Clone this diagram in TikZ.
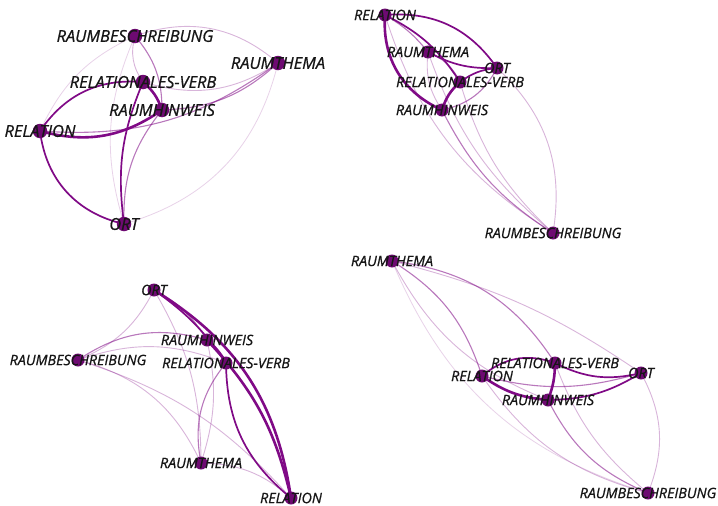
\documentclass[tikz,border=0pt]{standalone}
\usepackage{fontspec}
\setmainfont{Open Sans}
\newfontfamily\lbfont[FakeBold=0.8]{Open Sans}
\begin{document}
\begin{tikzpicture}[x=1pt,y=-1pt,
  nd/.style={circle,fill=nodecol,inner sep=0pt,minimum size=13pt},
  ndbig/.style={nd,minimum size=14.5pt},
  lb/.style={font=\lbfont\fontsize{14.3}{14.3}\selectfont\itshape,text=txtcol,inner sep=0pt},
  lbbig/.style={font=\lbfont\fontsize{16.4}{16.4}\selectfont\itshape,text=txtcol,inner sep=0pt},
  ea/.style={draw=edgecol,line width=2.6pt},
  eb/.style={draw=edgecol,line width=1.7pt},
  ec/.style={draw=edgecol,line width=1.1pt,draw opacity=.55},
  ed/.style={draw=edgecol,line width=.9pt,draw opacity=.3},
  ee/.style={draw=edgecol,line width=.8pt,draw opacity=.18},
  bl/.style={bend left=#1},
  br/.style={bend right=#1}]
\definecolor{nodecol}{HTML}{6E0A72}
\definecolor{edgecol}{HTML}{800A86}
\definecolor{txtcol}{HTML}{161616}
\useasboundingbox (0,0) rectangle (718,506);
\fill[white] (0,0) rectangle (718,506);

% ---------- panel a ----------
\coordinate (aRB) at (135,36);
\coordinate (aRT) at (278,63);
\coordinate (aRV) at (143,82);
\coordinate (aRH) at (162,110);
\coordinate (aRL) at (40,131);
\coordinate (aO)  at (124,224);
\draw[ee] (aRB) to[br=20] (aRL);
\draw[ee] (aRB) to[br=20] (aO);
\draw[ee] (aRT) to[bl=30] (aO);
\draw[ed] (aRB) to[bl=30] (aRT);
\draw[ed] (aRB) to[br=25] (aRV);
\draw[ec] (aRB) to[bl=20] (aRH);
\draw[ed] (aRT) to[bl=25] (aRV);
\draw[ec] (aRT) to[bl=20] (aRH);
\draw[ec] (aRT) to[bl=20] (aRL);
\draw[ec] (aRH) to[br=20] (aO);
\draw[eb] (aRV) to[br=15] (aO);
\draw[eb] (aRL) to[br=35] (aO);
\draw[eb] (aRL) to[bl=30] (aRV);
\draw[ea] (aRL) to[br=25] (aRH);
\draw[ea] (aRV) to[bl=15] (aRH);

% ---------- panel b ----------
\coordinate (bRL) at (385,15);
\coordinate (bRT) at (428,52);
\coordinate (bO)  at (497,68);
\coordinate (bRV) at (460,82);
\coordinate (bRH) at (442,110);
\coordinate (bRB) at (553,233);
\draw[ed] (bRL) to[br=20] (bRB);
\draw[ed] (bRT) to[br=15] (bRB);
\draw[ed] (bRV) to[br=15] (bRB);
\draw[ed] (bO) to[bl=28] (bRB);
\draw[ec] (bRH) to[br=15] (bRB);
\draw[ed] (bRT) to[br=20] (bRH);
\draw[ec] (bRL) to[bl=10] (bRT);
\draw[ec] (bRT) to[bl=20] (bRV);
\draw[ec] (bRH) to[br=25] (bO);
\draw[eb] (bRV) to[bl=15] (bO);
\draw[eb] (bRT) to[br=15] (bO);
\draw[eb] (bRL) to[bl=30] (bO);
\draw[eb] (bRL) to[bl=15] (bRV);
\draw[ea] (bRL) to[br=35] (bRH);
\draw[ea] (bRV) to[br=15] (bRH);

% ---------- panel c ----------
\coordinate (cO)  at (154,290);
\coordinate (cRH) at (207,340);
\coordinate (cRB) at (78,360);
\coordinate (cRV) at (226,363);
\coordinate (cRT) at (201,463);
\coordinate (cRL) at (291,498);
\draw[ed] (cRB) to[bl=15] (cRL);
\draw[ed] (cRB) to[br=20] (cO);
\draw[ed] (cRB) to[bl=25] (cRT);
\draw[ed] (cRB) to[bl=20] (cRV);
\draw[ec] (cRB) to[bl=25] (cRH);
\draw[ed] (cRT) to[br=15] (cRH);
\draw[ed] (cRT) to[br=15] (cO);
\draw[ed] (cRT) to[bl=20] (cRL);
\draw[ec] (cRT) to[bl=25] (cRV);
\draw[ec] (cO) to[bl=15] (cRH);
\draw[eb] (cO) to[bl=10] (cRV);
\draw[ea] (cO) to[bl=25] (cRL);
\draw[ea] (cRH) to[bl=15] (cRL);
\draw[eb] (cRV) to[br=25] (cRL);
\draw[ea] (cRH) to[bl=10] (cRV);

% ---------- panel d ----------
\coordinate (dRT) at (392,261);
\coordinate (dRV) at (555,363);
\coordinate (dRL) at (482,376);
\coordinate (dO)  at (641,373);
\coordinate (dRH) at (548,400);
\coordinate (dRB) at (648,493);
\draw[ee] (dRT) to[br=25] (dRB);
\draw[ed] (dRT) to[br=20] (dRH);
\draw[ed] (dRT) to[bl=10] (dO);
\draw[ed] (dRV) to[br=15] (dRB);
\draw[ed] (dRL) to[br=20] (dRB);
\draw[ed] (dO) to[bl=25] (dRB);
\draw[ec] (dRH) to[br=20] (dRB);
\draw[ec] (dRT) to[bl=25] (dRV);
\draw[ec] (dRT) to[bl=20] (dRL);
\draw[ec] (dRL) to[br=15] (dO);
\draw[eb] (dRV) to[br=20] (dO);
\draw[eb] (dRH) to[br=15] (dO);
\draw[eb] (dRL) to[bl=30] (dRV);
\draw[ea] (dRL) to[br=15] (dRH);
\draw[ea] (dRV) to[bl=10] (dRH);

% ---------- node circles ----------
\foreach \p in {aRB,aRT,aRV,aRH,aRL,aO}{\node[ndbig] (\p n) at (\p) {};}
\foreach \p in {bRB,bRT,bRV,bRH,bRL,bO,cRB,cRT,cRV,cRH,cRL,cO,dRB,dRT,dRV,dRH,dRL,dO}{\node[nd] (\p n) at (\p) {};}

% ---------- labels ----------
\node[lbbig] (aRBl) at (aRB) {RAUMBESCHREIBUNG};
\node[lbbig] (aRTl) at (aRT) {RAUMTHEMA};
\node[lbbig] (aRVl) at (aRV) {RELATIONALES-VERB};
\node[lbbig] (aRHl) at (aRH) {RAUMHINWEIS};
\node[lbbig] (aRLl) at (aRL) {RELATION};
\node[lbbig] (aOl)  at (aO)  {ORT};

\node[lb] (bRBl) at (bRB) {RAUMBESCHREIBUNG};
\node[lb] (bRTl) at (bRT) {RAUMTHEMA};
\node[lb] (bRVl) at (bRV) {RELATIONALES-VERB};
\node[lb] (bRHl) at (bRH) {RAUMHINWEIS};
\node[lb] (bRLl) at (bRL) {RELATION};
\node[lb] (bOl)  at (bO)  {ORT};

\node[lb] (cRBl) at (cRB) {RAUMBESCHREIBUNG};
\node[lb] (cRTl) at (cRT) {RAUMTHEMA};
\node[lb] (cRVl) at (cRV) {RELATIONALES-VERB};
\node[lb] (cRHl) at (cRH) {RAUMHINWEIS};
\node[lb] (cRLl) at (cRL) {RELATION};
\node[lb] (cOl)  at (cO)  {ORT};

\node[lb] (dRBl) at (dRB) {RAUMBESCHREIBUNG};
\node[lb] (dRTl) at (dRT) {RAUMTHEMA};
\node[lb] (dRVl) at (dRV) {RELATIONALES-VERB};
\node[lb] (dRHl) at (dRH) {RAUMHINWEIS};
\node[lb] (dRLl) at (dRL) {RELATION};
\node[lb] (dOl)  at (dO)  {ORT};
\end{tikzpicture}
\end{document}
